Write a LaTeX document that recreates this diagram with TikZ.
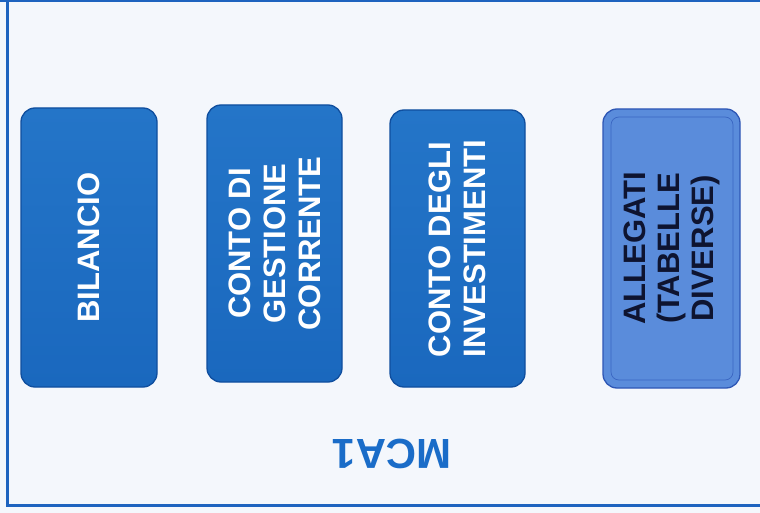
\documentclass[tikz,border=0pt]{standalone}
\usepackage{fontspec}
\setmainfont{Liberation Sans}
\definecolor{bg}{HTML}{F4F7FC}
\definecolor{frameblue}{HTML}{1E63BF}
\definecolor{boxfill}{HTML}{1A68BE}
\definecolor{boxtop}{HTML}{2475C8}
\definecolor{boxedge}{HTML}{0F4E9E}
\definecolor{litefill}{HTML}{5A8CDB}
\definecolor{liteedge}{HTML}{2E57B5}
\definecolor{liteinner}{HTML}{3A66C2}
\definecolor{darktext}{HTML}{0E1430}
\definecolor{mcablue}{HTML}{1A6CC8}
\begin{document}
\begin{tikzpicture}[x=1pt,y=-1pt,
  darkbox/.style={rounded corners=14pt, rotate=90, draw=boxedge, line width=1.3pt,
    top color=boxtop, bottom color=boxfill,
    text=white, font=\bfseries\fontsize{31}{35}\selectfont, align=center, inner sep=0pt},
  litebox/.style={rounded corners=14pt, rotate=90, draw=liteedge, line width=1.3pt,
    fill=litefill, text=darktext, font=\bfseries\fontsize{31}{34}\selectfont,
    align=center, inner sep=0pt},
  innerline/.style={draw=liteinner, line width=0.7pt, rounded corners=8pt},
  frameline/.style={draw=frameblue, line width=2.2pt},
  titletext/.style={rotate=180, text=mcablue, font=\bfseries\fontsize{42}{42}\selectfont, inner sep=0pt}
]
\useasboundingbox (0,0) rectangle (760,513);
\fill[bg] (0,0) rectangle (760,513);

% frame
\draw[frameline] (0,1.4) -- (760,1.4);
\draw[frameline] (7.5,0) -- (7.5,505.5) -- (760,505.5);

% boxes
\node[darkbox, minimum width=279pt, minimum height=136pt] (bil) at (89,247.5) {BILANCIO};
\node[darkbox, minimum width=277pt, minimum height=135pt] (cgc) at (274.5,243.5)
  {CONTO DI\\GESTIONE\\CORRENTE};
\node[darkbox, minimum width=277pt, minimum height=135pt, align=left] (cdi) at (457.5,248.5)
  {CONTO DEGLI\\INVESTIMENTI};
\node[litebox, minimum width=279pt, minimum height=137pt] (all) at (671.5,248.5)
  {ALLEGATI\\(TABELLE\\DIVERSE)};
\draw[innerline] (611,117) rectangle (733,380);

% title
\node[titletext] (mca) at (392,453.5) {MCA1};
\end{tikzpicture}
\end{document}
